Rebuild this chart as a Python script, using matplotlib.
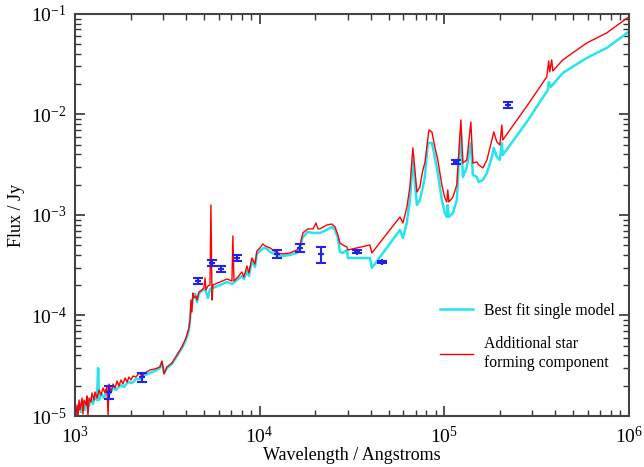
import matplotlib
matplotlib.use('Agg')
import matplotlib.pyplot as plt
import numpy as np

plt.rcParams['font.family'] = ['Liberation Serif', 'DejaVu Serif']
plt.rcParams['mathtext.fontset'] = 'custom'
plt.rcParams['mathtext.rm'] = 'Liberation Serif'

# best fit single model (log10 wavelength [A], log10 flux [Jy])
single_logwave = [
    3.011, 3.022, 3.032, 3.043, 3.054, 3.065, 3.076, 3.087, 3.097, 3.108,
    3.119, 3.125, 3.130, 3.141, 3.157, 3.173, 3.189, 3.206, 3.222, 3.244,
    3.265, 3.287, 3.309, 3.330, 3.352, 3.379, 3.406, 3.433, 3.460, 3.471,
    3.482, 3.498, 3.525, 3.552, 3.579, 3.601, 3.617, 3.628, 3.639, 3.650,
    3.661, 3.671, 3.682, 3.704, 3.720, 3.731, 3.747, 3.785, 3.823, 3.850,
    3.877, 3.904, 3.915, 3.931, 3.942, 3.958, 3.975, 3.985, 4.002, 4.023,
    4.040, 4.056, 4.094, 4.126, 4.164, 4.202, 4.218, 4.234, 4.261, 4.289,
    4.326, 4.364, 4.391, 4.408, 4.424, 4.435, 4.451, 4.473, 4.478, 4.597,
    4.608, 4.760, 4.776, 4.797, 4.814, 4.830, 4.852, 4.868, 4.884, 4.895,
    4.911, 4.933, 4.949, 4.965, 4.987, 5.003, 5.014, 5.019, 5.025, 5.047,
    5.068, 5.079, 5.090, 5.101, 5.122, 5.144, 5.155, 5.176, 5.187, 5.209,
    5.231, 5.258, 5.268, 5.285, 5.301, 5.312, 5.317, 5.447, 5.561, 5.566,
    5.577, 5.642, 5.772, 5.880, 5.999]
single_logflux = [
    -5.000, -4.881, -4.960, -4.861, -4.940, -4.841, -4.900, -4.821, -4.881, -4.801,
    -4.841, -4.522, -4.841, -4.781, -4.821, -4.751, -4.781, -4.721, -4.741, -4.692,
    -4.711, -4.662, -4.672, -4.632, -4.632, -4.592, -4.572, -4.552, -4.522, -4.463,
    -4.572, -4.522, -4.483, -4.403, -4.323, -4.244, -4.144, -3.945, -3.816, -3.786,
    -3.866, -3.786, -3.756, -3.736, -3.826, -3.736, -3.726, -3.697, -3.667, -3.687,
    -3.647, -3.607, -3.637, -3.557, -3.607, -3.458, -3.517, -3.388, -3.358, -3.328,
    -3.338, -3.368, -3.398, -3.408, -3.398, -3.378, -3.328, -3.219, -3.169, -3.179,
    -3.179, -3.149, -3.119, -3.149, -3.229, -3.368, -3.378, -3.348, -3.428, -3.428,
    -3.527, -3.149, -3.229, -3.080, -2.851, -2.453, -2.901, -2.851, -2.721, -2.622,
    -2.284, -2.284, -2.423, -2.582, -2.851, -2.980, -3.020, -2.901, -3.020, -2.980,
    -2.851, -2.453, -2.184, -2.622, -2.522, -2.284, -2.602, -2.622, -2.672, -2.652,
    -2.582, -2.423, -2.333, -2.423, -2.453, -2.284, -2.403, -2.075, -1.756, -1.677,
    -1.726, -1.587, -1.438, -1.338, -1.179]

# model with additional star forming component
sf_logwave = [
    3.005, 3.011, 3.016, 3.022, 3.027, 3.038, 3.043, 3.049, 3.060, 3.065,
    3.070, 3.076, 3.087, 3.092, 3.103, 3.108, 3.119, 3.130, 3.141, 3.152,
    3.162, 3.173, 3.179, 3.184, 3.195, 3.206, 3.217, 3.227, 3.238, 3.249,
    3.260, 3.271, 3.282, 3.292, 3.303, 3.314, 3.330, 3.347, 3.363, 3.379,
    3.406, 3.433, 3.460, 3.471, 3.482, 3.498, 3.525, 3.552, 3.579, 3.601,
    3.617, 3.623, 3.628, 3.633, 3.639, 3.644, 3.655, 3.661, 3.671, 3.682,
    3.698, 3.704, 3.709, 3.720, 3.731, 3.736, 3.742, 3.747, 3.785, 3.823,
    3.850, 3.855, 3.861, 3.877, 3.904, 3.915, 3.931, 3.942, 3.958, 3.975,
    3.985, 4.002, 4.018, 4.029, 4.056, 4.094, 4.126, 4.164, 4.202, 4.218,
    4.234, 4.261, 4.289, 4.305, 4.316, 4.326, 4.364, 4.391, 4.408, 4.424,
    4.435, 4.451, 4.473, 4.478, 4.597, 4.608, 4.760, 4.776, 4.797, 4.814,
    4.830, 4.852, 4.868, 4.884, 4.895, 4.917, 4.933, 4.949, 4.965, 4.987,
    5.003, 5.014, 5.019, 5.025, 5.047, 5.068, 5.079, 5.090, 5.101, 5.122,
    5.133, 5.144, 5.155, 5.176, 5.187, 5.209, 5.231, 5.258, 5.268, 5.285,
    5.301, 5.312, 5.317, 5.452, 5.555, 5.566, 5.571, 5.582, 5.588, 5.642,
    5.772, 5.880, 5.999]
sf_logflux = [
    -5.000, -4.891, -5.000, -4.841, -4.940, -4.821, -4.980, -4.841, -4.891, -4.801,
    -5.000, -4.821, -4.861, -4.771, -4.841, -4.761, -4.821, -4.741, -4.791, -4.721,
    -4.771, -4.701, -5.000, -4.682, -4.761, -4.682, -4.721, -4.652, -4.701, -4.642,
    -4.682, -4.622, -4.662, -4.612, -4.642, -4.602, -4.612, -4.572, -4.602, -4.572,
    -4.542, -4.532, -4.512, -4.453, -4.582, -4.512, -4.473, -4.393, -4.313, -4.224,
    -4.124, -4.045, -3.846, -3.965, -3.776, -3.826, -3.806, -3.846, -3.766, -3.756,
    -3.726, -3.627, -3.746, -3.706, -3.697, -2.901, -3.846, -3.697, -3.667, -3.637,
    -3.657, -3.209, -3.657, -3.627, -3.567, -3.617, -3.507, -3.577, -3.428, -3.488,
    -3.358, -3.328, -3.289, -3.308, -3.328, -3.378, -3.388, -3.378, -3.348, -3.308,
    -3.179, -3.139, -3.139, -3.080, -3.139, -3.139, -3.100, -3.090, -3.119, -3.199,
    -3.279, -3.299, -3.318, -3.348, -3.299, -3.378, -3.020, -3.080, -2.930, -2.721,
    -2.333, -2.771, -2.721, -2.552, -2.483, -2.154, -2.174, -2.323, -2.453, -2.701,
    -2.831, -2.871, -2.751, -2.871, -2.821, -2.701, -2.383, -2.055, -2.483, -2.453,
    -2.274, -2.075, -2.483, -2.473, -2.502, -2.532, -2.453, -2.254, -2.174, -2.274,
    -2.304, -2.105, -2.254, -1.905, -1.627, -1.468, -1.577, -1.458, -1.567, -1.458,
    -1.289, -1.189, -1.030]

# observed photometry
obs_wave = [1528, 2307, 4634, 5520, 6170, 7530, 12420, 16520, 21480,
            33650, 45950, 115600, 220800]
obs_flux = [1.73e-5, 2.44e-5, 2.2e-4, 3.33e-4, 2.9e-4, 3.73e-4, 4.09e-4,
            4.7e-4, 4.09e-4, 4.29e-4, 3.4e-4, 3.37e-3, 1.25e-2]
obs_err = [0.25e-5, 0.25e-5, 0.15e-4, 0.23e-4, 0.2e-4, 0.25e-4, 0.38e-4,
           0.43e-4, 0.75e-4, 0.15e-4, 0.1e-4, 0.12e-3, 0.09e-2]

fig = plt.figure(figsize=(6.44, 4.67), dpi=100)
ax = fig.add_axes([0.1165, 0.1092, 0.86, 0.861])

ax.plot(10 ** np.array(single_logwave), 10 ** np.array(single_logflux),
        color='#22e5f0', lw=1.8, label='Best fit single model')
ax.plot(10 ** np.array(sf_logwave), 10 ** np.array(sf_logflux),
        color='#ff0000', lw=1.0, label='Additional star\nforming component')
ax.errorbar(obs_wave, obs_flux, yerr=obs_err, fmt='+', color='#2222ee',
            ms=5, mew=1.5, elinewidth=1.5, capsize=3.5, capthick=1.5)

ax.set_xscale('log')
ax.set_yscale('log')
ax.set_xlim(1e3, 1e6)
ax.set_ylim(1e-5, 1e-1)

ax.set_xlabel('Wavelength / Angstroms', fontsize=13, labelpad=0)
ax.set_ylabel('Flux / Jy', fontsize=13)
ax.tick_params(which='both', direction='in', top=True, right=True,
               colors='#333333', labelcolor='black')
ax.tick_params(which='major', length=7, width=1.2, labelsize=14, pad=6)
ax.tick_params(axis='x', which='major', pad=7)
ax.tick_params(which='minor', length=4, width=1.0)
for s in ax.spines.values():
    s.set_color('#444444')
    s.set_linewidth(1.5)

ax.legend(loc='lower right', bbox_to_anchor=(1.0, 0.078), frameon=False,
          fontsize=11.3, handlelength=2.1, handletextpad=0.7, labelspacing=1.1)

plt.savefig('out.png', dpi=100)
